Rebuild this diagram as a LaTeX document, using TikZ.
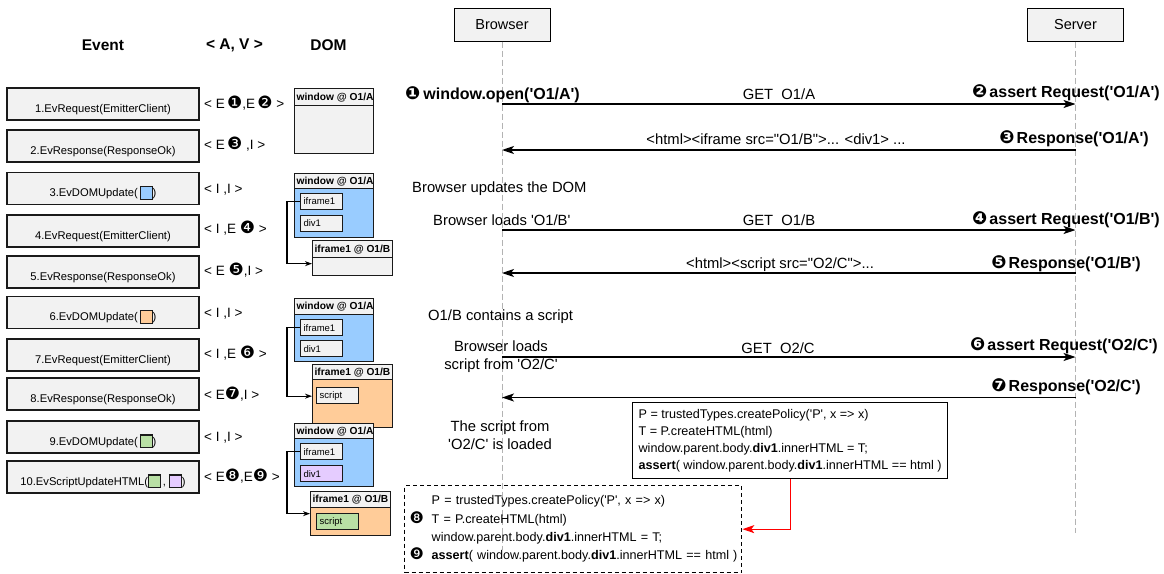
\documentclass[tikz,border=0pt]{standalone}
\usepackage{fontspec}
\setmainfont{Liberation Sans}[Ligatures=TeXOff]
\newfontfamily\dvfont{DejaVu Sans}
\usetikzlibrary{arrows.meta}
\definecolor{boxgray}{HTML}{F2F2F2}
\definecolor{bluef}{HTML}{99CCFF}
\definecolor{orangef}{HTML}{FFCC99}
\definecolor{greenf}{HTML}{B9E0A5}
\definecolor{purplef}{HTML}{E5CCFF}
\definecolor{lifeg}{HTML}{B3B3B3}
\definecolor{redarrow}{HTML}{FF0000}
\definecolor{edge}{HTML}{1A1A1A}
\newcommand\cnb[1]{{\dvfont\fontsize{18}{18}\selectfont #1}}
\newcommand\cna[1]{{\dvfont\fontsize{17}{17}\selectfont #1}}
\newcommand\cnc[1]{{\dvfont\fontsize{16}{16}\selectfont #1}}
\newcommand\sq[1]{\raisebox{-2pt}{\setlength{\fboxsep}{0pt}\setlength{\fboxrule}{1.2pt}\fcolorbox{edge}{#1}{\rule{0pt}{11.5pt}\rule{10.5pt}{0pt}}}}
\newcommand\hd[1]{\makebox[75pt][l]{#1}}
\begin{document}
\begin{tikzpicture}[x=1pt,y=-1pt,
  hdr/.style={font=\fontsize{15.5}{18}\selectfont\bfseries, inner sep=0pt},
  evbox/.style={draw=edge, line width=1.2pt, fill=boxgray, minimum width=192pt, minimum height=32pt, inner sep=0pt, font=\fontsize{11.2}{13}\selectfont, text height=18pt, text depth=2pt},
  av/.style={anchor=base west, font=\fontsize{13.5}{16}\selectfont, inner sep=0pt},
  dbody/.style={draw=edge, line width=1.3pt, anchor=north west, inner sep=0pt, fill=#1},
  dhead/.style={draw=edge, line width=1.3pt, fill=boxgray, anchor=north west, inner xsep=2pt, inner ysep=0pt, minimum width=#1, font=\fontsize{10.2}{12}\selectfont\bfseries, minimum height=16pt},
  dhead/.default=79pt,
  dinner/.style={draw=edge, line width=1.2pt, fill=#1, anchor=north west, minimum height=16pt, minimum width=42pt, inner xsep=3pt, inner ysep=0pt, font=\fontsize{9.5}{11}\selectfont},
  dinner/.default=boxgray,
  dconn/.style={line width=1.2pt, -{Stealth[length=7pt,width=5pt]}},
  actor/.style={draw, line width=1pt, fill=boxgray, minimum width=96pt, minimum height=33pt, inner sep=0pt, font=\fontsize{14.5}{17}\selectfont},
  life/.style={draw=lifeg, line width=1pt, dash pattern=on 6pt off 3pt},
  msg/.style={line width=1.3pt, -{Stealth[length=12pt,width=8pt,inset=3pt]}},
  blab/.style={font=\fontsize{16}{19}\selectfont\bfseries, inner sep=0pt},
  mlab/.style={font=\fontsize{14.8}{18}\selectfont, inner sep=0pt},
  codebox/.style={draw, line width=1.3pt, fill=white, anchor=north west, inner sep=0pt, align=left, font=\fontsize{12.6}{17}\selectfont},
  dashbox/.style={draw, line width=1.3pt, dash pattern=on 4pt off 3pt, anchor=north west, inner sep=0pt, align=left, font=\fontsize{12.6}{18.3}\selectfont},
  redarr/.style={draw=redarrow, line width=1.3pt, -{Stealth[length=12pt,width=8pt,inset=3pt]}}
]
\useasboundingbox (0,0) rectangle (1164,573);

% headers
\node[hdr] (hev) at (103,45) {Event};
\node[hdr] (hav) at (234.5,45) {< A, V >};
\node[hdr] (hdom) at (328.5,45) {DOM};

% event boxes
\node[evbox] (ev1) at (103,104) {1.EvRequest(EmitterClient)};
\node[evbox] (ev2) at (103,146) {2.EvResponse(ResponseOk)};
\node[evbox] (ev3) at (103,188.5) {3.EvDOMUpdate(\,\sq{bluef})};
\node[evbox] (ev4) at (103,231) {4.EvRequest(EmitterClient)};
\node[evbox] (ev5) at (103,272) {5.EvResponse(ResponseOk)};
\node[evbox] (ev6) at (103,312.5) {6.EvDOMUpdate(\,\sq{orangef})};
\node[evbox] (ev7) at (103,355) {7.EvRequest(EmitterClient)};
\node[evbox] (ev8) at (103,394) {8.EvResponse(ResponseOk)};
\node[evbox] (ev9) at (103,437) {9.EvDOMUpdate(\,\sq{greenf})};
\node[evbox] (ev10) at (103,477) {10.EvScriptUpdateHTML(\sq{greenf}\,, \sq{purplef})};

% A,V labels
\node[av] (av1) at (204,108) {< E\,\cna{❶},E\,\cna{❷} >};
\node[av] (av2) at (204,149) {< E\,\cna{❸} ,I >};
\node[av] (av3) at (204,193) {< I ,I >};
\node[av] (av4) at (204,233) {< I ,E \cna{❹} >};
\node[av] (av5) at (204,275) {< E \cna{❺},I >};
\node[av] (av6) at (204,317) {< I ,I >};
\node[av] (av7) at (204,358) {< I ,E \cna{❻} >};
\node[av] (av8) at (204,399) {< E\cna{❼},I >};
\node[av] (av9) at (204,441) {< I ,I >};
\node[av] (av10) at (204,481) {< E\cna{❽},E\cna{❾} >};

% DOM 1
\node[dbody=boxgray, minimum width=79pt, minimum height=65pt] (w1) at (294,88) {};
\node[dhead, minimum height=17pt] (w1h) at (294,88) {\hd{window @ O1/A}};

% DOM 2
\node[dbody=bluef, minimum width=79pt, minimum height=64pt] (w2) at (294,173) {};
\node[dhead, minimum height=15pt] (w2h) at (294,173) {\hd{window @ O1/A}};
\node[dinner] (i2) at (300,193) {\makebox[36pt][l]{iframe1}};
\node[dinner] (d2) at (300,215) {\makebox[36pt][l]{div1}};
\node[dbody=boxgray, minimum width=80pt, minimum height=35pt] (f2) at (312,240) {};
\node[dhead=80pt, minimum height=17pt] (f2h) at (312,240) {\makebox[76pt][l]{iframe1 @ O1/B}};
\draw[dconn] (i2.west) -- ++(-13,0) |- ([yshift=-5.5pt]f2.west);

% DOM 3
\node[dbody=bluef, minimum width=79pt, minimum height=63pt] (w3) at (294,298) {};
\node[dhead, minimum height=16pt] (w3h) at (294,298) {\hd{window @ O1/A}};
\node[dinner] (i3) at (300,319) {\makebox[36pt][l]{iframe1}};
\node[dinner] (d3) at (300,340) {\makebox[36pt][l]{div1}};
\node[dbody=orangef, minimum width=80pt, minimum height=63pt] (f3) at (312,364) {};
\node[dhead=80pt, minimum height=15pt] (f3h) at (312,364) {\makebox[76pt][l]{iframe1 @ O1/B}};
\node[dinner] (s3) at (316,387) {\makebox[36pt][l]{script}};
\draw[dconn] (i3.west) -- ++(-13,0) |- (f3.west);

% DOM 4
\node[dbody=bluef, minimum width=79pt, minimum height=63pt] (w4) at (294,423) {};
\node[dhead, minimum height=15pt] (w4h) at (294,423) {\hd{window @ O1/A}};
\node[dinner] (i4) at (300,443) {\makebox[36pt][l]{iframe1}};
\node[dinner=purplef] (d4) at (300,465) {\makebox[36pt][l]{div1}};
\node[dbody=orangef, minimum width=80pt, minimum height=44pt] (f4) at (310,491) {};
\node[dhead=80pt, minimum height=16pt] (f4h) at (310,491) {\makebox[76pt][l]{iframe1 @ O1/B}};
\node[dinner=greenf] (s4) at (316,513) {\makebox[36pt][l]{script}};
\draw[dconn] (i4.west) -- ++(-13,0) |- (f4.west);

% actors and lifelines
\node[actor] (br) at (502,24.5) {Browser};
\node[actor] (sv) at (1075.5,24.5) {Server};
\coordinate (brend) at (502,550);
\coordinate (svend) at (1075.5,533);
\draw[life] (br.south) -- (brend);
\draw[life] (sv.south) -- (svend);

% message end points
\coordinate (b1) at (502,104);   \coordinate (s1) at (1075.5,104);
\coordinate (b2) at (502,150);   \coordinate (s2) at (1075.5,150);
\coordinate (b3) at (502,230);   \coordinate (s3) at (1075.5,230);
\coordinate (b4) at (502,273);   \coordinate (s4) at (1075.5,273);
\coordinate (b5) at (502,357);   \coordinate (s5) at (1075.5,357);
\coordinate (b6) at (502,397.5); \coordinate (s6) at (1075.5,397.5);
\draw[msg] (b1) -- (s1);
\draw[msg] (s2) -- (b2);
\draw[msg] (b3) -- (s3);
\draw[msg] (s4) -- (b4);
\draw[msg] (b5) -- (s5);
\draw[msg] (s6) -- (b6);

% bold labels
\node[blab, anchor=base west] (l1) at (405,99) {\cnb{❶}\hspace{3pt}window.open('O1/A')};
\node[blab, anchor=base east] (r1) at (1160,97) {\cnb{❷}\hspace{2pt}assert Request('O1/A')};
\node[blab, anchor=base east] (r2) at (1149,143) {\cnb{❸}\hspace{2pt}Response('O1/A')};
\node[blab, anchor=base east] (r3) at (1160,224) {\cnb{❹}\hspace{2pt}assert Request('O1/B')};
\node[blab, anchor=base east] (r4) at (1141,268) {\cnb{❺}\hspace{2pt}Response('O1/B')};
\node[blab, anchor=base east] (r5) at (1158,350) {\cnb{❻}\hspace{2pt}assert Request('O2/C')};
\node[blab, anchor=base east] (r6) at (1141,391) {\cnb{❼}\hspace{2pt}Response('O2/C')};

% message labels
\node[mlab, anchor=base] (g1) at (779,99) {GET\ \ O1/A};
\node[mlab, anchor=base] (h1) at (776,144) {<html><iframe src="O1/B">... <div1> ...};
\node[mlab, anchor=base west] (t1) at (412,192) {Browser updates the DOM};
\node[mlab, anchor=base west] (t2) at (433,225) {Browser loads 'O1/B'};
\node[mlab, anchor=base] (g2) at (779,225) {GET\ \ O1/B};
\node[mlab, anchor=base] (h2) at (780,268) {<html><script src="O2/C">...};
\node[mlab, anchor=base west] (t3) at (428,320) {O1/B contains a script};
\node[mlab, align=center] (t4) at (501,357) {Browser loads\\script from 'O2/C'};
\node[mlab, anchor=base] (g3) at (778,353) {GET\ \ O2/C};
\node[mlab, align=center] (t5) at (500,435) {The script from\\'O2/C' is loaded};

% code boxes
\node[codebox, minimum width=315pt, minimum height=76pt] (code) at (632,402) {P = trustedTypes.createPolicy('P', x => x)\\T = P.createHTML(html)\\window.parent.body.\textbf{div1}.innerHTML = T;\\\textbf{assert}( window.parent.body.\textbf{div1}.innerHTML == html )};
\node[dashbox, text width=337pt, minimum height=87pt] (dash) at (404,485) {\hspace*{27pt}P = trustedTypes.createPolicy('P', x => x)\\\makebox[27pt][l]{\hspace{5pt}\cnc{❽}}T = P.createHTML(html)\\\hspace*{27pt}window.parent.body.\textbf{div1}.innerHTML = T;\\\makebox[27pt][l]{\hspace{5pt}\cnc{❾}}\textbf{assert}( window.parent.body.\textbf{div1}.innerHTML == html )};
\draw[redarr] (code.south) |- (dash.east);
\end{tikzpicture}
\end{document}
